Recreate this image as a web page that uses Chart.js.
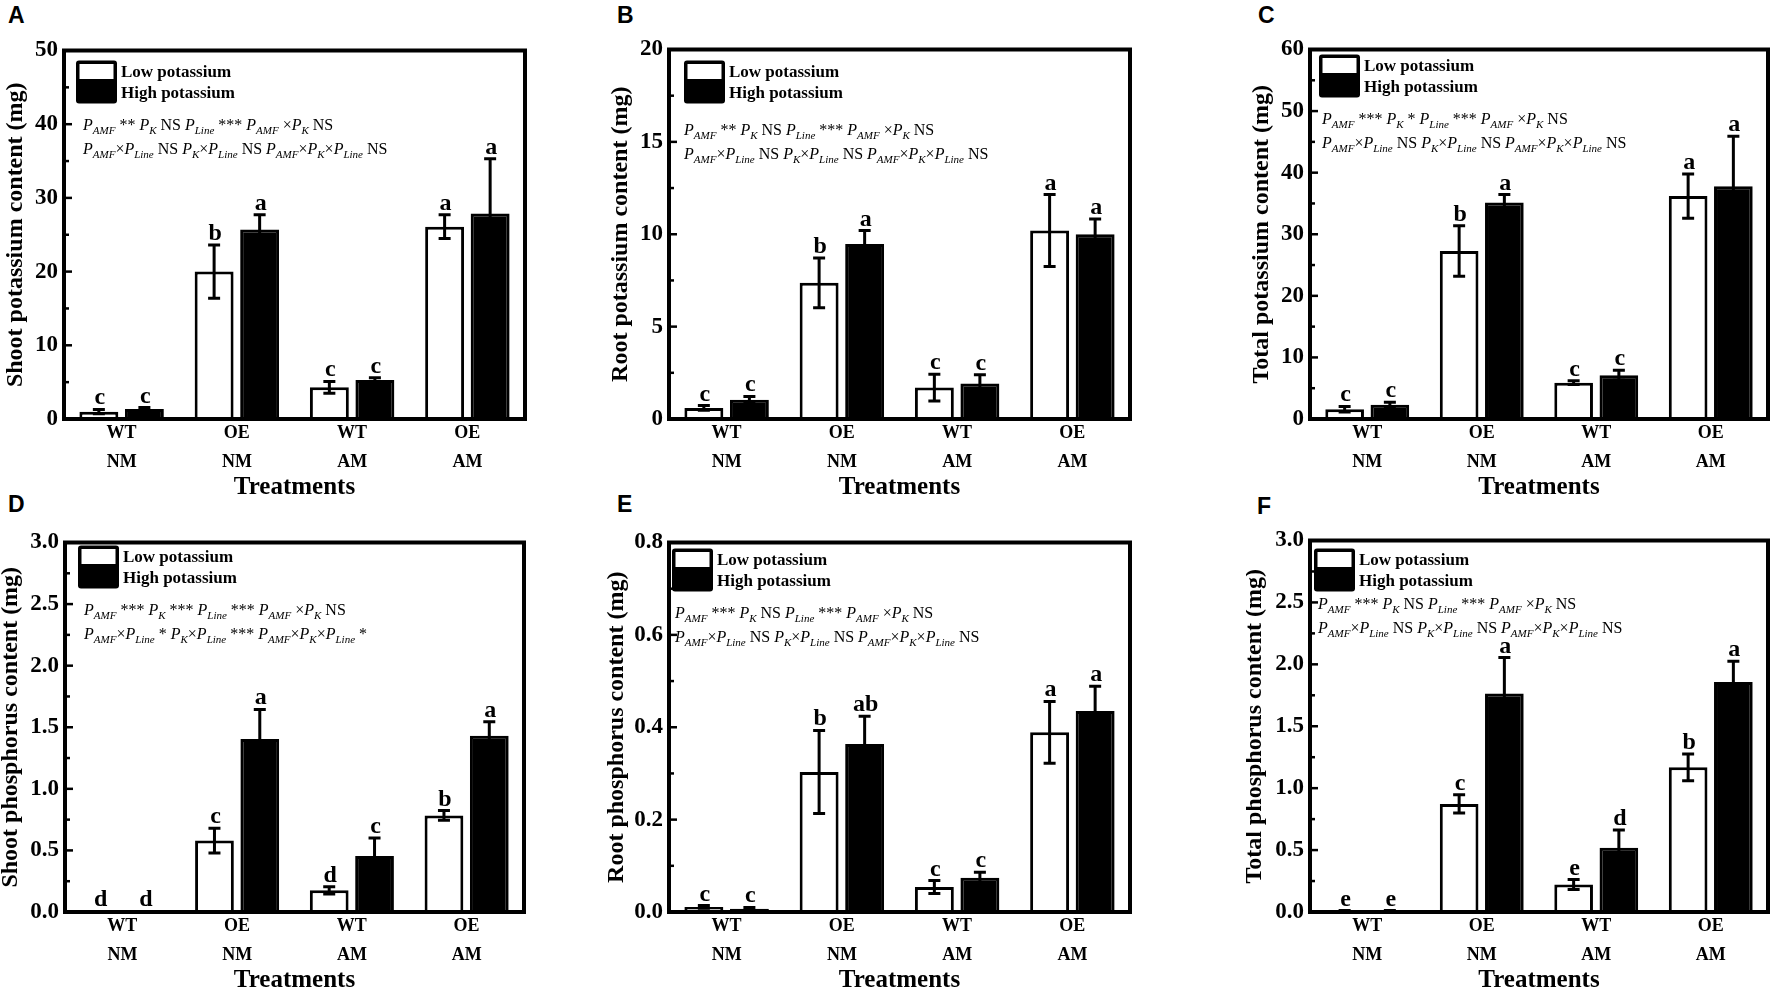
<!DOCTYPE html>
<html>
<head>
<meta charset="utf-8">
<script src="https://cdn.jsdelivr.net/npm/chart.js@4.4.1/dist/chart.umd.min.js"></script>
<style>
  body { margin: 0; background: #fff; overflow: hidden; width: 1772px; height: 989px; position: relative; }
  canvas { position: absolute; }
  .tag { position: absolute; font: bold 23px "Liberation Sans", Arial, sans-serif; line-height: 1; color: #000; }
</style>
</head>
<body>
<div class="tag" style="left:8px;top:4px">A</div>
<div class="tag" style="left:617px;top:4px">B</div>
<div class="tag" style="left:1258px;top:4px">C</div>
<div class="tag" style="left:8px;top:493px">D</div>
<div class="tag" style="left:617px;top:493px">E</div>
<div class="tag" style="left:1257px;top:495px">F</div>
<script>
// categories
const lines = ['WT', 'OE', 'WT', 'OE'];
const inoculation = ['NM', 'NM', 'AM', 'AM'];
const seriesNames = ['Low potassium', 'High potassium'];

// A - shoot K (mg)
const shootKLow = [1.0, 20.0, 4.3, 26.1];
const shootKLowErr = [0.3, 3.6, 0.8, 1.6];
const shootKHigh = [1.35, 25.7, 5.3, 27.9];
const shootKHighErr = [0.2, 2.0, 0.3, 7.4];
const shootKLetters = [['c', 'b', 'c', 'a'], ['c', 'a', 'c', 'a']];

// B - root K (mg)
const rootKLow = [0.6, 7.37, 1.7, 10.2];
const rootKLowErr = [0.13, 1.35, 0.72, 1.95];
const rootKHigh = [1.04, 9.47, 1.92, 10.0];
const rootKHighErr = [0.18, 0.73, 0.47, 0.83];
const rootKLetters = [['c', 'b', 'c', 'a'], ['c', 'a', 'c', 'a']];

// C - total K (mg)
const totalKLow = [1.6, 27.3, 5.9, 36.2];
const totalKLowErr = [0.45, 4.1, 0.3, 3.6];
const totalKHigh = [2.3, 35.15, 7.1, 37.8];
const totalKHighErr = [0.4, 1.3, 0.8, 8.1];
const totalKLetters = [['c', 'b', 'c', 'a'], ['c', 'a', 'c', 'a']];

// D - shoot P (mg)
const shootPLow = [0.003, 0.58, 0.176, 0.784];
const shootPLowErr = [0.002, 0.1, 0.03, 0.04];
const shootPHigh = [0.003, 1.405, 0.454, 1.43];
const shootPHighErr = [0.002, 0.24, 0.146, 0.115];
const shootPLetters = [['d', 'c', 'd', 'b'], ['d', 'a', 'c', 'a']];

// E - root P (mg)
const rootPLow = [0.011, 0.303, 0.054, 0.389];
const rootPLowErr = [0.003, 0.09, 0.014, 0.067];
const rootPHigh = [0.007, 0.364, 0.074, 0.435];
const rootPHighErr = [0.003, 0.06, 0.012, 0.054];
const rootPLetters = [['c', 'b', 'c', 'a'], ['c', 'ab', 'c', 'a']];

// F - total P (mg)
const totalPLow = [0.01, 0.873, 0.222, 1.168];
const totalPLowErr = [0.002, 0.073, 0.04, 0.108];
const totalPHigh = [0.01, 1.765, 0.519, 1.857];
const totalPHighErr = [0.002, 0.29, 0.143, 0.167];
const totalPLetters = [['e', 'c', 'e', 'b'], ['e', 'a', 'd', 'a']];

// ANOVA annotations, P_{x} = italic P with subscript
const statsKShoot = ['P_{AMF} ** P_{K} NS P_{Line} *** P_{AMF} \u00d7P_{K} NS',
                     'P_{AMF}\u00d7P_{Line} NS P_{K}\u00d7P_{Line} NS P_{AMF}\u00d7P_{K}\u00d7P_{Line} NS'];
const statsKTotal = ['P_{AMF} *** P_{K} * P_{Line} *** P_{AMF} \u00d7P_{K} NS',
                     'P_{AMF}\u00d7P_{Line} NS P_{K}\u00d7P_{Line} NS P_{AMF}\u00d7P_{K}\u00d7P_{Line} NS'];
const statsPShoot = ['P_{AMF} *** P_{K} *** P_{Line} *** P_{AMF} \u00d7P_{K} NS',
                     'P_{AMF}\u00d7P_{Line} * P_{K}\u00d7P_{Line} *** P_{AMF}\u00d7P_{K}\u00d7P_{Line} *'];
const statsPRoot = ['P_{AMF} *** P_{K} NS P_{Line} *** P_{AMF} \u00d7P_{K} NS',
                    'P_{AMF}\u00d7P_{Line} NS P_{K}\u00d7P_{Line} NS P_{AMF}\u00d7P_{K}\u00d7P_{Line} NS'];

const SERIF = '"Liberation Serif", "Times New Roman", serif';

// draws "P_{sub}" style text
function drawRich(ctx, str, x, y, size) {
    const re = /P_\{([^}]*)\}/g;
    let last = 0, m;
    const put = (t, font, dy) => {
        ctx.font = font;
        ctx.fillText(t, x, y + dy);
        x += ctx.measureText(t).width;
    };
    while ((m = re.exec(str)) !== null) {
        if (m.index > last) put(str.slice(last, m.index), size + 'px ' + SERIF, 0);
        put('P', 'italic ' + size + 'px ' + SERIF, 0);
        put(m[1], 'italic ' + Math.round(size * 0.66) + 'px ' + SERIF, size * 0.28);
        last = re.lastIndex;
    }
    if (last < str.length) put(str.slice(last), size + 'px ' + SERIF, 0);
}

const decoPlugin = {
    id: 'deco',
    afterDatasetsDraw(chart, args, o) {
        const ctx = chart.ctx;
        const y = chart.scales.y;
        ctx.save();
        ctx.strokeStyle = '#000';
        ctx.fillStyle = '#000';
        ctx.lineWidth = 3;
        chart.data.datasets.forEach((ds, di) => {
            const meta = chart.getDatasetMeta(di);
            meta.data.forEach((bar, i) => {
                const v = ds.data[i], e = o.errors[di][i];
                const top = y.getPixelForValue(v + e);
                const bot = y.getPixelForValue(Math.max(v - e, 0));
                ctx.beginPath();
                ctx.moveTo(bar.x, top); ctx.lineTo(bar.x, bot);
                ctx.moveTo(bar.x - 6, top); ctx.lineTo(bar.x + 6, top);
                ctx.moveTo(bar.x - 6, bot); ctx.lineTo(bar.x + 6, bot);
                ctx.stroke();
                ctx.font = 'bold 24px ' + SERIF;
                ctx.textAlign = 'center';
                ctx.textBaseline = 'alphabetic';
                ctx.fillText(o.letters[di][i], bar.x + 1, top - 5);
            });
        });
        ctx.restore();
    },
    afterDraw(chart, args, o) {
        const ctx = chart.ctx;
        const a = chart.chartArea;
        const y = chart.scales.y;
        ctx.save();
        // inward ticks on the left axis
        ctx.strokeStyle = '#000';
        ctx.lineWidth = 2.5;
        const step = o.step;
        for (let v = 0; v <= y.max + 1e-9; v += step / 2) {
            const major = Math.abs(v / step - Math.round(v / step)) < 1e-6;
            const py = y.getPixelForValue(v);
            ctx.beginPath();
            ctx.moveTo(a.left, py);
            ctx.lineTo(a.left + (major ? 8 : 5), py);
            ctx.stroke();
        }
        // frame
        ctx.lineWidth = 4;
        ctx.strokeRect(a.left, a.top, a.right - a.left, a.bottom - a.top);
        // legend
        const lx = a.left + o.legend[0], ly = a.top + o.legend[1];
        ctx.fillStyle = '#000';
        ctx.beginPath();
        ctx.roundRect(lx, ly, 41, 43, 3);
        ctx.fill();
        ctx.fillStyle = '#fff';
        ctx.fillRect(lx + 3.5, ly + 3.5, 34, 15);
        ctx.fillStyle = '#000';
        ctx.font = 'bold 17px ' + SERIF;
        ctx.textAlign = 'left';
        ctx.textBaseline = 'alphabetic';
        ctx.fillText(seriesNames[0], lx + 45, ly + 16);
        ctx.fillText(seriesNames[1], lx + 45, ly + 37);
        // stats text
        o.stats.forEach((s, k) => drawRich(ctx, s, a.left + o.statsPos[0], a.top + o.statsPos[1] + k * 24, 16));
        ctx.restore();
    }
};

const panels = [
    { area: [64, 49, 525, 419], title: 'Shoot potassium content (mg)', max: 50, step: 10, dec: 0,
      low: shootKLow, high: shootKHigh, errors: [shootKLowErr, shootKHighErr], letters: shootKLetters,
      stats: statsKShoot, legend: [12, 10], statsPos: [19, 79], titlePad: 4 },
    { area: [669, 48, 1130, 419], title: 'Root potassium content (mg)', max: 20, step: 5, dec: 0,
      low: rootKLow, high: rootKHigh, errors: [rootKLowErr, rootKHighErr], letters: rootKLetters,
      stats: statsKShoot, legend: [15, 11], statsPos: [15, 85], titlePad: 4 },
    { area: [1310, 48, 1768, 419], title: 'Total potassium content (mg)', max: 60, step: 10, dec: 0,
      low: totalKLow, high: totalKHigh, errors: [totalKLowErr, totalKHighErr], letters: totalKLetters,
      stats: statsKTotal, legend: [9, 5], statsPos: [12, 74], titlePad: 4 },
    { area: [65, 541, 524, 912], title: 'Shoot phosphorus content (mg)', max: 3, step: 0.5, dec: 1,
      low: shootPLow, high: shootPHigh, errors: [shootPLowErr, shootPHighErr], letters: shootPLetters,
      stats: statsPShoot, legend: [13, 3], statsPos: [19, 72], titlePad: -2 },
    { area: [669, 541, 1130, 912], title: 'Root phosphorus content (mg)', max: 0.8, step: 0.2, dec: 1,
      low: rootPLow, high: rootPHigh, errors: [rootPLowErr, rootPHighErr], letters: rootPLetters,
      stats: statsPRoot, legend: [3, 6], statsPos: [6, 75], titlePad: 0 },
    { area: [1310, 539, 1768, 912], title: 'Total phosphorus content (mg)', max: 3, step: 0.5, dec: 1,
      low: totalPLow, high: totalPHigh, errors: [totalPLowErr, totalPHighErr], letters: totalPLetters,
      stats: statsPRoot, legend: [4, 8], statsPos: [8, 68], titlePad: -3 }
];

const Y_W = 64, X_H = 76, PAD_T = 16, PAD_R = 4;

function makePanel(p) {
    const [l, t, r, b] = p.area;
    const cv = document.createElement('canvas');
    const w = r - l + Y_W + PAD_R, h = b - t + PAD_T + X_H;
    cv.width = w; cv.height = h;
    cv.style.left = (l - Y_W) + 'px';
    cv.style.top = (t - PAD_T) + 'px';
    cv.style.width = w + 'px'; cv.style.height = h + 'px';
    document.body.appendChild(cv);

    new Chart(cv.getContext('2d'), {
        type: 'bar',
        data: {
            labels: lines.map((ln, i) => [ln, inoculation[i]]),
            datasets: [
                { label: seriesNames[0], data: p.low, backgroundColor: '#fff', borderColor: '#000',
                  borderWidth: 3, categoryPercentage: 0.79, barPercentage: 0.855 },
                { label: seriesNames[1], data: p.high, backgroundColor: '#000', borderColor: '#000',
                  borderWidth: 3, categoryPercentage: 0.79, barPercentage: 0.855 }
            ]
        },
        options: {
            responsive: false,
            animation: false,
            devicePixelRatio: 1,
            layout: { padding: { top: PAD_T, right: PAD_R, left: 0, bottom: 0 } },
            plugins: {
                legend: { display: false },
                tooltip: { enabled: false },
                deco: { errors: p.errors, letters: p.letters, step: p.step, legend: p.legend,
                        stats: p.stats, statsPos: p.statsPos }
            },
            scales: {
                x: {
                    grid: { display: false, drawTicks: false },
                    border: { display: false },
                    ticks: { color: '#000', padding: 0, maxRotation: 0, autoSkip: false,
                             font: { family: SERIF, size: 18, weight: 'bold', lineHeight: 29 / 18 } },
                    title: { display: true, text: 'Treatments', color: '#000',
                             font: { family: SERIF, size: 25, weight: 'bold', lineHeight: 1 },
                             padding: { top: 0, bottom: -5 } },
                    afterFit(s) { s.height = X_H; }
                },
                y: {
                    min: 0, max: p.max,
                    grid: { display: false, drawTicks: false },
                    border: { display: false },
                    ticks: { stepSize: p.step, color: '#000', padding: 6,
                             font: { family: SERIF, size: 23, weight: 'bold', lineHeight: 1 },
                             callback: v => v.toFixed(p.dec) },
                    title: { display: true, text: p.title, color: '#000',
                             font: { family: SERIF, size: 24, weight: 'bold', lineHeight: 1 },
                             padding: { top: p.titlePad, bottom: 0 } },
                    afterFit(s) { s.width = Y_W; }
                }
            }
        },
        plugins: [decoPlugin]
    });
}

panels.forEach(makePanel);
</script>
</body>
</html>
